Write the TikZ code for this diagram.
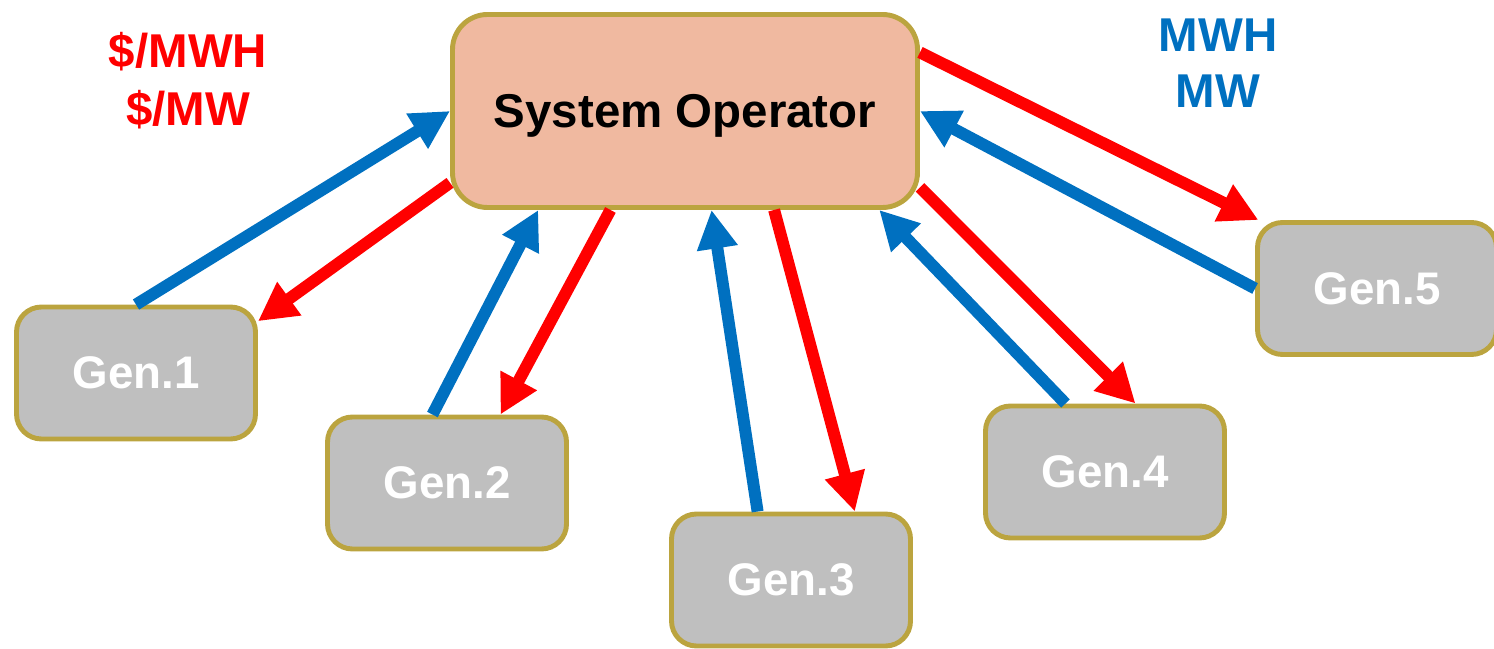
\documentclass[tikz,border=0pt]{standalone}
\RequirePackage{fontspec}
\setmainfont{Liberation Sans}
\RequirePackage{tikz}
\usetikzlibrary{
    arrows.meta,
    positioning,
}
\definecolor{opFill}{HTML}{F0B9A0}
\definecolor{genFill}{HTML}{BFBFBF}
\definecolor{boxLine}{HTML}{BBA43F}
\definecolor{bidBlue}{HTML}{0070C0}
\definecolor{priceRed}{HTML}{FF0000}

\begin{document}
\begin{tikzpicture}[
        box/.style={draw=boxLine, line width=2.8pt, font=\fontsize{26}{32}\selectfont\bfseries},
        gen/.style={box, fill=genFill, text=white, rounded corners=0.5cm,
            minimum width=4.78cm, minimum height=2.64cm},
        flow/.style={line width=6.8pt, -{Triangle[length=22pt, width=22pt]}},
        up/.style={flow, bidBlue},
        down/.style={flow, priceRed},
    ]
        \useasboundingbox (0,0) rectangle (29.88,12.96);

        \node[box, fill=opFill, rounded corners=0.7cm, minimum width=9.3cm, minimum height=3.86cm,
            text depth=0pt, font=\fontsize{27}{32}\selectfont\bfseries] (SO) at (13.70,10.74) {System Operator};

        \node[gen] (G1) at (2.72,5.50) {Gen.1};
        \node[gen] (G2) at (8.94,3.30) {Gen.2};
        \node[gen] (G3) at (15.82,1.36) {Gen.3};
        \node[gen] (G4) at (22.10,3.52) {Gen.4};
        \node[gen] (G5) at (27.54,7.19) {Gen.5};

        \node[align=center, text=priceRed, font=\fontsize{27}{33}\selectfont\bfseries] (price) at (3.76,11.34) {\$/MWH\\\$/MW};
        \node[align=center, text=bidBlue, font=\fontsize{27}{32}\selectfont\bfseries] (qty) at (24.36,11.70) {MWH\\MW};

        % offers up, prices down
        \draw[up] (G1.north) -- (SO.west);
        \draw[down] (SO.197.7) -- (G1.23.5);
        \draw[up] (G2.102.4) -- (SO.214.7);
        \draw[down] (SO.233.6) -- (G2.52.1);
        \draw[up] (G3.116.2) -- (SO.285.3);
        \draw[down] (SO.312.3) -- (G3.47.6);
        \draw[up] (G4.120.8) -- (SO.333.1);
        \draw[down] (SO.342.1) -- (G4.66.2);
        \draw[down] (SO.14.4) -- (G5.150.2);
        \draw[up] (G5.west) -- (SO.east);
    \end{tikzpicture}
\end{document}
